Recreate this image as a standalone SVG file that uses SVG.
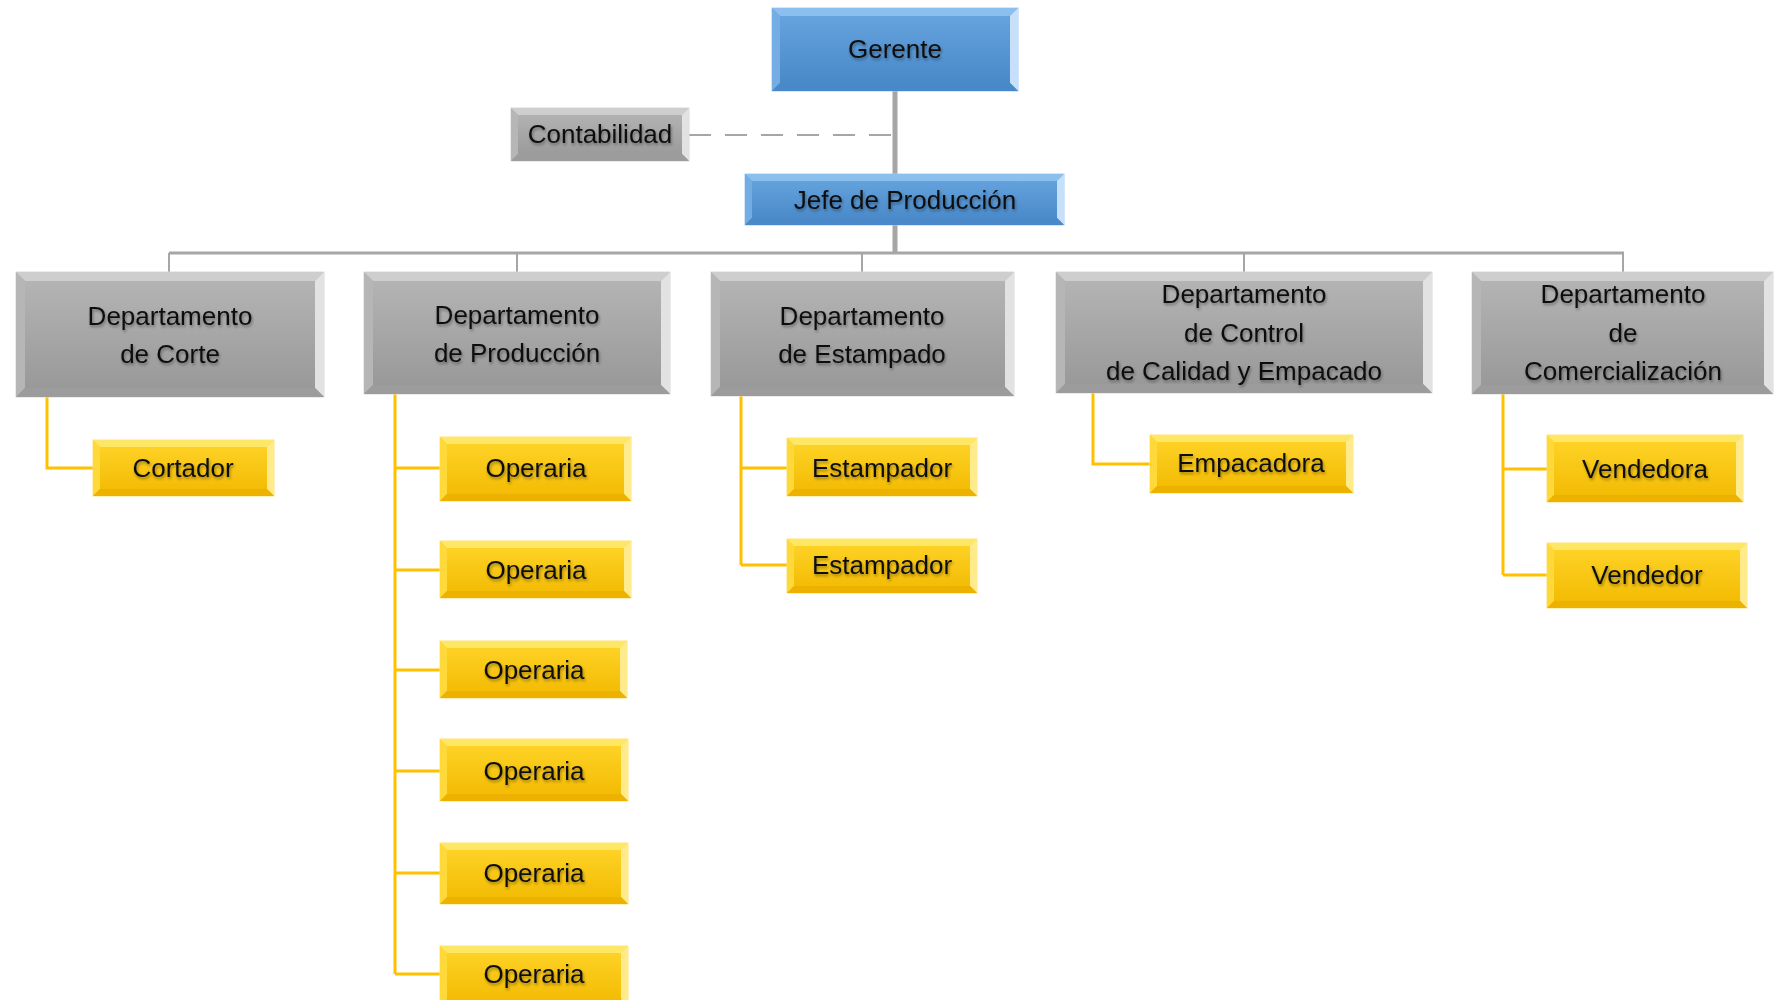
<svg xmlns="http://www.w3.org/2000/svg" width="1780" height="1000" viewBox="0 0 1780 1000">
  <defs>
    <linearGradient id="gBlue" x1="0" y1="0" x2="0" y2="1">
      <stop offset="0" stop-color="#68a6e0"/>
      <stop offset="1" stop-color="#4686c6"/>
    </linearGradient>
    <linearGradient id="gGray" x1="0" y1="0" x2="0" y2="1">
      <stop offset="0" stop-color="#b6b6b6"/>
      <stop offset="1" stop-color="#979797"/>
    </linearGradient>
    <linearGradient id="gYellow" x1="0" y1="0" x2="0" y2="1">
      <stop offset="0" stop-color="#ffd52a"/>
      <stop offset="1" stop-color="#f2b900"/>
    </linearGradient>
    <filter id="glow" x="-10%" y="-30%" width="120%" height="160%">
      <feGaussianBlur in="SourceAlpha" stdDeviation="1.6" result="b"/>
      <feOffset in="b" dx="1" dy="1.5" result="o"/>
      <feComponentTransfer in="o" result="s">
        <feFuncA type="linear" slope="0.38"/>
      </feComponentTransfer>
      <feMerge>
        <feMergeNode in="s"/>
        <feMergeNode in="SourceGraphic"/>
      </feMerge>
    </filter>
  </defs>
  <style>
    text { font-family: "Liberation Sans", Arial, sans-serif; font-size: 26px; fill: #111; text-anchor: middle; dominant-baseline: central; filter: url(#glow); }
    .blue .face { fill: url(#gBlue); stroke: #a9d0f5; }
    .blue .t { fill: #8abfee; }
    .blue .l { fill: #74ade4; }
    .blue .r { fill: #c5e0f8; }
    .blue .b { fill: #4a89c9; }
    .gray .face { fill: url(#gGray); stroke: #d9d9d9; }
    .gray .t { fill: #cecece; }
    .gray .l { fill: #b6b6b6; }
    .gray .r { fill: #e2e2e2; }
    .gray .b { fill: #9c9c9c; }
    .yel .face { fill: url(#gYellow); stroke: #ffe27a; }
    .yel .t { fill: #ffe766; }
    .yel .l { fill: #ffd83a; }
    .yel .r { fill: #ffeb8c; }
    .yel .b { fill: #edb200; }
    .trunk { stroke: #a6a6a6; fill: none; }
    .dash { stroke: #a6a6a6; stroke-width: 2; stroke-dasharray: 22 14; fill: none; }
    .sub { stroke: #ffc000; stroke-width: 3; fill: none; }
  </style>

  <!-- connectors -->
  <g id="connectors">
    <path class="trunk" stroke-width="5" d="M895 91 V174 M895 225 V254"/>
    <path class="trunk" stroke-width="3" d="M169 253 H1624"/>
    <path class="trunk" stroke-width="2" d="M169 253 V272 M517 253 V272 M862 253 V272 M1244 253 V272 M1623 253 V272"/>
    <path class="dash" d="M689 135 H895"/>
    <path class="sub" d="M47 397 V468 H93"/>
    <path class="sub" d="M395 394 V974 M395 468 H440 M395 570 H440 M395 670 H440 M395 771 H440 M395 873 H440 M395 974 H440"/>
    <path class="sub" d="M741 396 V565 M741 468 H787 M741 565 H787"/>
    <path class="sub" d="M1093 393 V464 H1150"/>
    <path class="sub" d="M1503 394 V575 M1503 469 H1547 M1503 575 H1547"/>
  </g>

  <!-- top level -->
  <g id="gerente" class="blue">
    <rect class="face" x="772" y="8" width="246" height="83"/>
    <polygon class="t" points="772,8 1018,8 1010,16 780,16"/>
    <polygon class="l" points="772,8 780,16 780,83 772,91"/>
    <polygon class="r" points="1018,8 1010,16 1010,83 1018,91"/>
    <polygon class="b" points="772,91 780,83 1010,83 1018,91"/>
    <text x="895" y="49">Gerente</text>
  </g>

  <g id="contabilidad" class="gray">
    <rect class="face" x="511" y="108" width="178" height="53"/>
    <polygon class="t" points="511,108 689,108 682,115 518,115"/>
    <polygon class="l" points="511,108 518,115 518,154 511,161"/>
    <polygon class="r" points="689,108 682,115 682,154 689,161"/>
    <polygon class="b" points="511,161 518,154 682,154 689,161"/>
    <text x="600" y="134">Contabilidad</text>
  </g>

  <g id="jefe" class="blue">
    <rect class="face" x="745" y="174" width="319" height="51"/>
    <polygon class="t" points="745,174 1064,174 1057,181 752,181"/>
    <polygon class="l" points="745,174 752,181 752,218 745,225"/>
    <polygon class="r" points="1064,174 1057,181 1057,218 1064,225"/>
    <polygon class="b" points="745,225 752,218 1057,218 1064,225"/>
    <text x="905" y="200">Jefe de Producción</text>
  </g>

  <!-- departments -->
  <g id="dep-corte" class="gray">
    <rect class="face" x="16" y="272" width="308" height="125"/>
    <polygon class="t" points="16,272 324,272 315,281 25,281"/>
    <polygon class="l" points="16,272 25,281 25,388 16,397"/>
    <polygon class="r" points="324,272 315,281 315,388 324,397"/>
    <polygon class="b" points="16,397 25,388 315,388 324,397"/>
    <text x="170" y="316">Departamento</text>
    <text x="170" y="354">de Corte</text>
  </g>

  <g id="dep-produccion" class="gray">
    <rect class="face" x="364" y="272" width="306" height="122"/>
    <polygon class="t" points="364,272 670,272 661,281 373,281"/>
    <polygon class="l" points="364,272 373,281 373,385 364,394"/>
    <polygon class="r" points="670,272 661,281 661,385 670,394"/>
    <polygon class="b" points="364,394 373,385 661,385 670,394"/>
    <text x="517" y="315">Departamento</text>
    <text x="517" y="353">de Producción</text>
  </g>

  <g id="dep-estampado" class="gray">
    <rect class="face" x="711" y="272" width="303" height="124"/>
    <polygon class="t" points="711,272 1014,272 1005,281 720,281"/>
    <polygon class="l" points="711,272 720,281 720,387 711,396"/>
    <polygon class="r" points="1014,272 1005,281 1005,387 1014,396"/>
    <polygon class="b" points="711,396 720,387 1005,387 1014,396"/>
    <text x="862" y="316">Departamento</text>
    <text x="862" y="354">de Estampado</text>
  </g>

  <g id="dep-control" class="gray">
    <rect class="face" x="1056" y="272" width="376" height="121"/>
    <polygon class="t" points="1056,272 1432,272 1423,281 1065,281"/>
    <polygon class="l" points="1056,272 1065,281 1065,384 1056,393"/>
    <polygon class="r" points="1432,272 1423,281 1423,384 1432,393"/>
    <polygon class="b" points="1056,393 1065,384 1423,384 1432,393"/>
    <text x="1244" y="294">Departamento</text>
    <text x="1244" y="333">de Control</text>
    <text x="1244" y="371">de Calidad y Empacado</text>
  </g>

  <g id="dep-comercializacion" class="gray">
    <rect class="face" x="1472" y="272" width="301" height="122"/>
    <polygon class="t" points="1472,272 1773,272 1764,281 1481,281"/>
    <polygon class="l" points="1472,272 1481,281 1481,385 1472,394"/>
    <polygon class="r" points="1773,272 1764,281 1764,385 1773,394"/>
    <polygon class="b" points="1472,394 1481,385 1764,385 1773,394"/>
    <text x="1623" y="294">Departamento</text>
    <text x="1623" y="333">de</text>
    <text x="1623" y="371">Comercialización</text>
  </g>

  <!-- staff -->
  <g id="cortador" class="yel">
    <rect class="face" x="93" y="440" width="181" height="56"/>
    <polygon class="t" points="93,440 274,440 267,447 100,447"/>
    <polygon class="l" points="93,440 100,447 100,489 93,496"/>
    <polygon class="r" points="274,440 267,447 267,489 274,496"/>
    <polygon class="b" points="93,496 100,489 267,489 274,496"/>
    <text x="183" y="468">Cortador</text>
  </g>

  <g id="operaria-1" class="yel">
    <rect class="face" x="440" y="437" width="191" height="64"/>
    <polygon class="t" points="440,437 631,437 624,444 447,444"/>
    <polygon class="l" points="440,437 447,444 447,494 440,501"/>
    <polygon class="r" points="631,437 624,444 624,494 631,501"/>
    <polygon class="b" points="440,501 447,494 624,494 631,501"/>
    <text x="536" y="468">Operaria</text>
  </g>

  <g id="operaria-2" class="yel">
    <rect class="face" x="440" y="541" width="191" height="57"/>
    <polygon class="t" points="440,541 631,541 624,548 447,548"/>
    <polygon class="l" points="440,541 447,548 447,591 440,598"/>
    <polygon class="r" points="631,541 624,548 624,591 631,598"/>
    <polygon class="b" points="440,598 447,591 624,591 631,598"/>
    <text x="536" y="570">Operaria</text>
  </g>

  <g id="operaria-3" class="yel">
    <rect class="face" x="440" y="641" width="187" height="57"/>
    <polygon class="t" points="440,641 627,641 620,648 447,648"/>
    <polygon class="l" points="440,641 447,648 447,691 440,698"/>
    <polygon class="r" points="627,641 620,648 620,691 627,698"/>
    <polygon class="b" points="440,698 447,691 620,691 627,698"/>
    <text x="534" y="670">Operaria</text>
  </g>

  <g id="operaria-4" class="yel">
    <rect class="face" x="440" y="739" width="188" height="62"/>
    <polygon class="t" points="440,739 628,739 621,746 447,746"/>
    <polygon class="l" points="440,739 447,746 447,794 440,801"/>
    <polygon class="r" points="628,739 621,746 621,794 628,801"/>
    <polygon class="b" points="440,801 447,794 621,794 628,801"/>
    <text x="534" y="771">Operaria</text>
  </g>

  <g id="operaria-5" class="yel">
    <rect class="face" x="440" y="843" width="188" height="61"/>
    <polygon class="t" points="440,843 628,843 621,850 447,850"/>
    <polygon class="l" points="440,843 447,850 447,897 440,904"/>
    <polygon class="r" points="628,843 621,850 621,897 628,904"/>
    <polygon class="b" points="440,904 447,897 621,897 628,904"/>
    <text x="534" y="873">Operaria</text>
  </g>

  <g id="operaria-6" class="yel">
    <rect class="face" x="440" y="946" width="188" height="60"/>
    <polygon class="t" points="440,946 628,946 621,953 447,953"/>
    <polygon class="l" points="440,946 447,953 447,999 440,1006"/>
    <polygon class="r" points="628,946 621,953 621,999 628,1006"/>
    <text x="534" y="974">Operaria</text>
  </g>

  <g id="estampador-1" class="yel">
    <rect class="face" x="787" y="438" width="190" height="58"/>
    <polygon class="t" points="787,438 977,438 970,445 794,445"/>
    <polygon class="l" points="787,438 794,445 794,489 787,496"/>
    <polygon class="r" points="977,438 970,445 970,489 977,496"/>
    <polygon class="b" points="787,496 794,489 970,489 977,496"/>
    <text x="882" y="468">Estampador</text>
  </g>

  <g id="estampador-2" class="yel">
    <rect class="face" x="787" y="539" width="190" height="54"/>
    <polygon class="t" points="787,539 977,539 970,546 794,546"/>
    <polygon class="l" points="787,539 794,546 794,586 787,593"/>
    <polygon class="r" points="977,539 970,546 970,586 977,593"/>
    <polygon class="b" points="787,593 794,586 970,586 977,593"/>
    <text x="882" y="565">Estampador</text>
  </g>

  <g id="empacadora" class="yel">
    <rect class="face" x="1150" y="435" width="203" height="58"/>
    <polygon class="t" points="1150,435 1353,435 1346,442 1157,442"/>
    <polygon class="l" points="1150,435 1157,442 1157,486 1150,493"/>
    <polygon class="r" points="1353,435 1346,442 1346,486 1353,493"/>
    <polygon class="b" points="1150,493 1157,486 1346,486 1353,493"/>
    <text x="1251" y="463">Empacadora</text>
  </g>

  <g id="vendedora" class="yel">
    <rect class="face" x="1547" y="435" width="196" height="67"/>
    <polygon class="t" points="1547,435 1743,435 1736,442 1554,442"/>
    <polygon class="l" points="1547,435 1554,442 1554,495 1547,502"/>
    <polygon class="r" points="1743,435 1736,442 1736,495 1743,502"/>
    <polygon class="b" points="1547,502 1554,495 1736,495 1743,502"/>
    <text x="1645" y="469">Vendedora</text>
  </g>

  <g id="vendedor" class="yel">
    <rect class="face" x="1547" y="543" width="200" height="65"/>
    <polygon class="t" points="1547,543 1747,543 1740,550 1554,550"/>
    <polygon class="l" points="1547,543 1554,550 1554,601 1547,608"/>
    <polygon class="r" points="1747,543 1740,550 1740,601 1747,608"/>
    <polygon class="b" points="1547,608 1554,601 1740,601 1747,608"/>
    <text x="1647" y="575">Vendedor</text>
  </g>
</svg>
